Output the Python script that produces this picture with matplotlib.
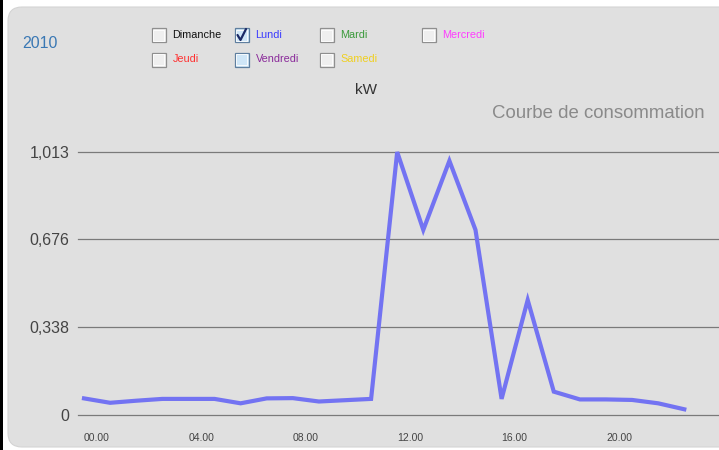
import matplotlib
matplotlib.use("Agg")
import matplotlib.pyplot as plt
from matplotlib.patches import FancyBboxPatch, Rectangle

plt.rcParams['font.family'] = ['Liberation Sans', 'DejaVu Sans']

# consumption curve for Lundi, one value per hour (kW)
hours = list(range(24))
lundi_kw = [0.064, 0.047, 0.055, 0.062, 0.062, 0.062, 0.045, 0.064, 0.065, 0.052,
            0.057, 0.062, 1.013, 0.713, 0.979, 0.713, 0.062, 0.443, 0.090, 0.060,
            0.060, 0.058, 0.045, 0.022]
y_ticks = [0, 0.338, 0.676, 1.013]
y_labels = ["0", "0,338", "0,676", "1,013"]
x_ticks = [0, 4, 8, 12, 16, 20]
x_labels = ["00.00", "04.00", "08.00", "12.00", "16.00", "20.00"]

# day checkboxes: (label, colour, checked, highlighted)
days = [("Dimanche", "#111111", False, False), ("Lundi", "#3a3aff", True, True),
        ("Mardi", "#3a9a3a", False, False), ("Mercredi", "#ff3cff", False, False),
        ("Jeudi", "#ff3030", False, False), ("Vendredi", "#8a2a9a", False, True),
        ("Samedi", "#f0d020", False, False)]

W, H = 719, 450
fig = plt.figure(figsize=(W / 100, H / 100), dpi=100)
fig.patch.set_facecolor("white")

# background layer in pixel coordinates
bg = fig.add_axes([0, 0, 1, 1])
bg.set_xlim(0, W)
bg.set_ylim(H, 0)
bg.axis("off")
bg.add_patch(FancyBboxPatch((8, 7), 760, 440, boxstyle="round,pad=0,rounding_size=14",
                            fc="#e0e0e0", ec="#d4d4d4", lw=0.8))
bg.add_patch(Rectangle((0, 0), 2.5, H, fc="black", ec="none"))

bg.text(22, 43, "2010", fontsize=11.5, color="#3a78b4", va="center", ha="left")
bg.text(366, 90, "kW", fontsize=11, color="#333333", va="center", ha="center")
bg.text(705, 114, "Courbe de consommation", fontsize=13.4, color="#8a8a8a",
        va="center", ha="right")

box_x = [158.5, 241.5, 326.5, 428.5, 158.5, 241.5, 326.5]
box_y = [35, 35, 35, 35, 59.5, 59.5, 59.5]
for (name, col, checked, hl), bx, by in zip(days, box_x, box_y):
    fc = "#cfe6f7" if hl else "#efefef"
    ec = "#5f7f9f" if hl else "#8f8f8f"
    bg.add_patch(Rectangle((bx - 7, by - 7), 14, 14, fc=fc, ec=ec, lw=0.9))
    bg.add_patch(Rectangle((bx - 5.5, by - 5.5), 11, 11, fc="none", ec="white", lw=0.6))
    if checked:
        bg.plot([bx - 4, bx - 1, bx + 4.5], [by, by + 5, by - 6], color="#1c2a66", lw=1.6,
                solid_capstyle="round")
    bg.text(bx + 14, by, name, fontsize=7.8, color=col, va="center", ha="left")

# chart area
left, right, bottom, top = 78, 719, 415, 152
ax = fig.add_axes([left / W, (H - bottom) / H, (right - left) / W, (bottom - top) / H])
ax.patch.set_alpha(0)
ax.set_xlim(-0.23, 24.33)
ax.set_ylim(0, 1.013)
for s in ax.spines.values():
    s.set_visible(False)
for yv in y_ticks:
    ax.axhline(yv, color="#7a7a7a", lw=0.9, zorder=1, clip_on=False)

ax.plot(hours, lundi_kw, color="#7373f2", lw=3, zorder=3, clip_on=False,
        solid_joinstyle="miter")

ax.set_yticks(y_ticks)
ax.set_yticklabels(y_labels, fontsize=11.5, color="#444444")
ax.set_xticks(x_ticks)
ax.set_xticklabels(x_labels, fontsize=7.5, color="#444444", ha="left")
ax.tick_params(axis="y", length=0, pad=6)
ax.tick_params(axis="x", length=0, pad=13)
for lbl in ax.get_xticklabels():
    lbl.set_x(lbl.get_position()[0])

fig.savefig("out.png", dpi=100)
